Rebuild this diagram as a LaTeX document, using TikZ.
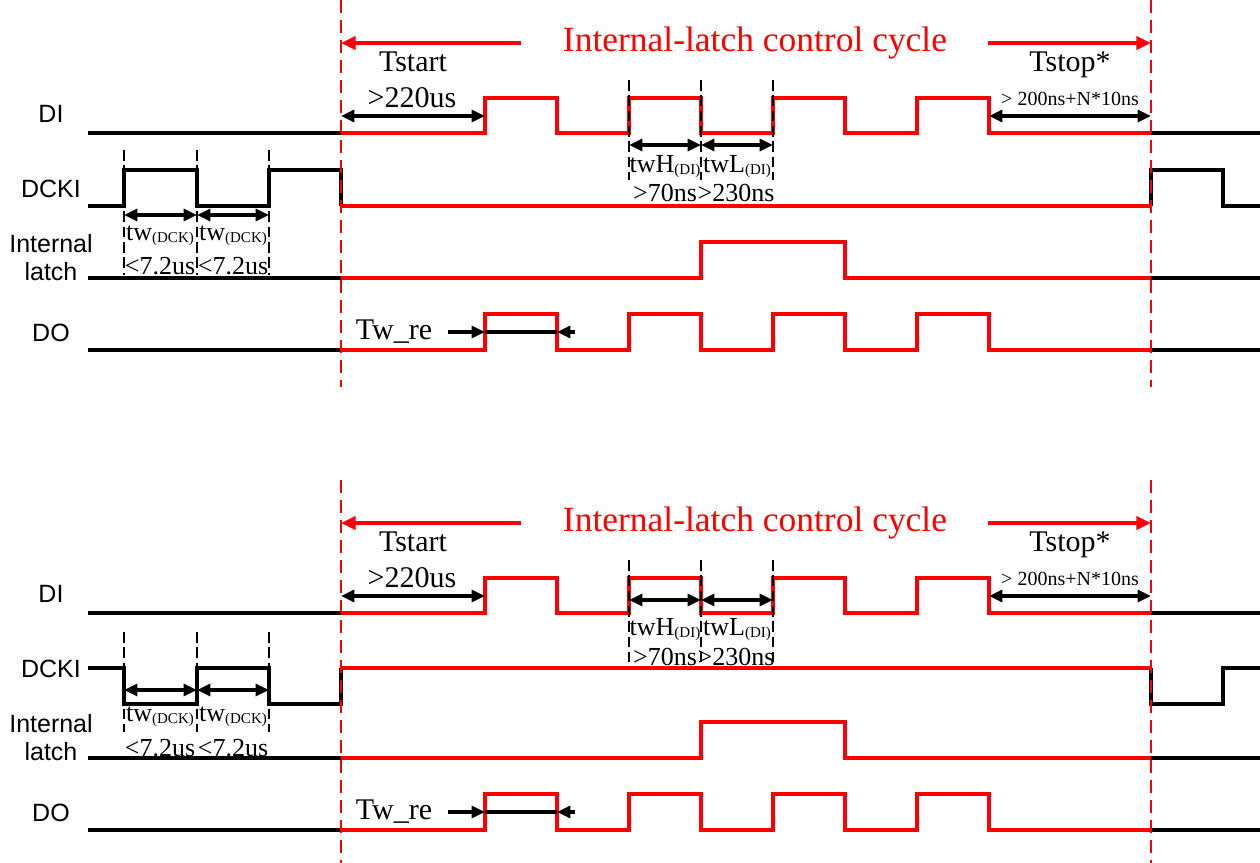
\documentclass[tikz,border=0pt]{standalone}
\usepackage{fontspec}
\setmainfont{Liberation Serif}
\newfontfamily\lsans{Liberation Sans}
\usetikzlibrary{arrows.meta}
\newcommand\mysub[1]{\raisebox{-1.5pt}{\fontsize{11.25}{12}\selectfont(#1)}}
\begin{document}
\begin{tikzpicture}[x=0.75pt,y=-0.75pt,
  sig/.style={line width=2.4pt},
  blk/.style={sig,black},
  rd/.style={sig,red},
  tickline/.style={black,line width=0.9pt,dash pattern=on 8pt off 3.5pt},
  cyc/.style={red,line width=1.2pt,dash pattern=on 10pt off 5pt},
  dimline/.style={black,line width=2.4pt},
  dimarrow/.style={dimline,{Triangle[length=10pt,width=9pt]}-{Triangle[length=10pt,width=9pt]}},
  onetip/.style={dimline,-{Triangle[length=10pt,width=9pt]}},
  redtip/.style={red,line width=2.4pt,-{Triangle[length=11pt,width=10pt]}},
  lab/.style={font=\lsans\fontsize{18.75}{20}\selectfont,inner sep=0},
  tm/.style={font=\fontsize{22.5}{24}\selectfont,inner sep=0},
  tms/.style={font=\fontsize{19.5}{21}\selectfont,inner sep=0},
  tmx/.style={font=\fontsize{15}{16}\selectfont,inner sep=0},
  ttl/.style={font=\fontsize{26.6}{28}\selectfont,red,inner sep=0},
]
\useasboundingbox (0,0) rectangle (1260,863);

\foreach \o in {0,480}{
\pgfmathsetmacro\sh{-0.75*\o}
\begin{scope}[yshift=\sh pt]
  % labels
  \node[lab] (lDI\o) at (51,114) {DI};
  \node[lab] (lDCKI\o) at (51,189) {DCKI};
  \node[lab] (lInt\o) at (51,244) {Internal};
  \node[lab] (lLat\o) at (51,272) {latch};
  \node[lab] (lDO\o) at (51,333) {DO};
  % DI
  \draw[blk] (88,133) -- (341,133);
  \draw[rd] (341,133) -| (485,98) -| (557,133) -| (629,98) -| (701,133) -| (773,98) -| (845,133) -| (917,98) -| (989,133) -- (1151,133);
  \draw[blk] (1151,133) -- (1260,133);
  % latch
  \draw[blk] (88,278) -- (341,278);
  \draw[rd] (341,278) -| (701,242) -| (845,278) -- (1151,278);
  \draw[blk] (1151,278) -- (1260,278);
  % DO
  \draw[blk] (88,350) -- (341,350);
  \draw[rd] (341,350) -| (485,314) -| (557,350) -| (629,314) -| (701,350) -| (773,314) -| (845,350) -| (917,314) -| (989,350) -- (1151,350);
  \draw[blk] (1151,350) -- (1260,350);
  % title
  \node[ttl] (ttl\o) at (755,43) {Internal-latch control cycle};
  \draw[redtip] (521,43) -- (341,43);
  \draw[redtip] (988,43) -- (1151,43);
  % Tstart
  \node[tm] (ts\o) at (413,62) {Tstart};
  \node[tm] (tsv\o) at (412,98) {>220us};
  \draw[dimarrow] (341,116) -- (485,116);
  % Tstop
  \node[tm] (tp\o) at (1070,65) {Tstop*};
  \node[tmx] (tpv\o) at (1070,99) {> 200ns+N*10ns};
  \draw[dimarrow] (989,116) -- (1151,116);
  % Tw_re
  \node[tm] (tw\o) at (394,332) {Tw\_re};
  \draw[onetip] (448,332) -- (485,332);
  \draw[dimline] (485,332) -- (557,332);
  \draw[onetip] (575,332) -- (557,332);
\end{scope}
}

% ---------- top panel specifics ----------
\foreach \x in {124,197,269} \draw[tickline] (\x,150) -- (\x,275);
\foreach \x in {629,701,773} \draw[tickline] (\x,80) -- (\x,180);
\draw[blk] (88,206) -| (124,170) -| (197,206) -| (269,170) -| (341,206);
\draw[rd] (341,206) -- (1151,206);
\draw[blk] (1151,206) |- (1223,170) |- (1260,206);
\draw[dimarrow] (124,215) -- (197,215);
\draw[dimarrow] (197,215) -- (269,215);
\node[tms] (dA) at (160,236) {tw\mysub{DCK}};
\node[tms] (dB) at (233,236) {tw\mysub{DCK}};
\node[tms] (dC) at (160,266) {<7.2us};
\node[tms] (dD) at (233,266) {<7.2us};
\draw[dimarrow] (629,145) -- (701,145);
\draw[dimarrow] (701,145) -- (773,145);
\node[tms] (hA) at (665,167) {twH\mysub{DI}};
\node[tms] (hB) at (737,167) {twL\mysub{DI}};
\node[tms] (hC) at (665,193) {>70ns};
\node[tms] (hD) at (736,193) {>230ns};

% ---------- bottom panel specifics ----------
\foreach \x in {124,197,269} \draw[tickline] (\x,632) -- (\x,732);
\foreach \x in {629,701,773} \draw[tickline] (\x,560) -- (\x,662);
\draw[blk] (88,668) -| (124,704) -| (197,668) -| (269,704) -| (341,668);
\draw[rd] (341,668) -- (1151,668);
\draw[blk] (1151,668) |- (1223,704) |- (1260,668);
\draw[dimarrow] (124,690) -- (197,690);
\draw[dimarrow] (197,690) -- (269,690);
\node[tms] (eA) at (160,717) {tw\mysub{DCK}};
\node[tms] (eB) at (233,717) {tw\mysub{DCK}};
\node[tms] (eC) at (160,748) {<7.2us};
\node[tms] (eD) at (233,748) {<7.2us};
\draw[dimarrow] (629,600) -- (701,600);
\draw[dimarrow] (701,600) -- (773,600);
\node[tms] (gA) at (665,630) {twH\mysub{DI}};
\node[tms] (gB) at (737,630) {twL\mysub{DI}};
\node[tms] (gC) at (665,657) {>70ns};
\node[tms] (gD) at (736,657) {>230ns};

% red dashed cycle boundaries
\foreach \x in {341,1151}{
  \draw[cyc] (\x,0) -- (\x,387);
  \draw[cyc] (\x,480) -- (\x,863);
}
\end{tikzpicture}
\end{document}
